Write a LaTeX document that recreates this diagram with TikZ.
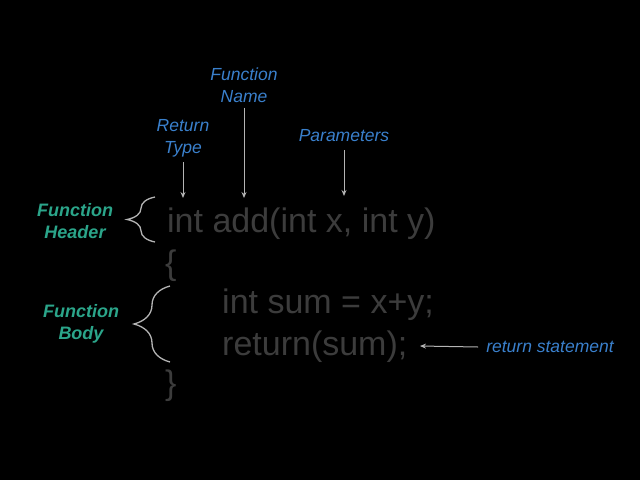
\documentclass[tikz,border=0pt]{standalone}
\usepackage{fontspec}
\setmainfont{Liberation Sans}
\usetikzlibrary{arrows.meta,decorations.pathreplacing}
\definecolor{codegray}{HTML}{3C3C3C}
\definecolor{teal1}{HTML}{2BA58A}
\definecolor{blue1}{HTML}{3A80CC}
\definecolor{lgray}{HTML}{B4B4B4}
\begin{document}
\begin{tikzpicture}[x=1pt,y=-1pt,
  code/.style={text=codegray,font=\fontsize{34}{40}\selectfont,inner sep=0pt,anchor=base west},
  tlab/.style={text=teal1,font=\fontsize{18}{22}\selectfont\bfseries\itshape,align=center,inner sep=0pt},
  blab/.style={text=blue1,font=\fontsize{17.5}{22}\selectfont\itshape,align=center,inner sep=0pt},
  arr/.style={lgray,line width=1pt,-{Stealth[length=6pt,width=5pt]}},
  br/.style={lgray,line width=1.3pt,decorate,decoration={brace,amplitude=#1,aspect=0.5}}]
\fill[black] (0,0) rectangle (640,480);
\node[code] (hdr) at (167,232) {int add(int x, int y)};
\node[code] (ob) at (165,274) {\{};
\node[code] (sum) at (222,313) {int sum = x+y;};
\node[code] (ret) at (222,355) {return(sum);};
\node[code] (cb) at (165,394) {\}};
\node[tlab] (fh) at (75,221) {Function\\Header};
\node[tlab] (fb) at (81,324) {Function\\Body};
\node[blab] (fn) at (244,85) {Function\\Name};
\node[blab] (rt) at (183,138) {Return\\Type};
\node[blab] (pa) at (344,136) {Parameters};
\node[blab] (rs) at (550,347) {return statement};
\coordinate (a1) at (183,198);
\coordinate (a2) at (244,198);
\coordinate (a3) at (344,196);
\coordinate (a4) at (420,346);
\coordinate (h1) at (155,197);
\coordinate (h2) at (155,242);
\coordinate (b1) at (170,286);
\coordinate (b2) at (170,362);
\draw[arr] (rt.south) ++(0,5) -- (a1);
\draw[arr] (fn.south) ++(0,5) -- (a2);
\draw[arr] (pa.south) ++(0,8) -- (a3);
\draw[arr] (rs.west) ++(-8,0) -- (a4);
\draw[br=28pt] (h2) -- (h1);
\draw[br=36pt] (b2) -- (b1);
\end{tikzpicture}
\end{document}
